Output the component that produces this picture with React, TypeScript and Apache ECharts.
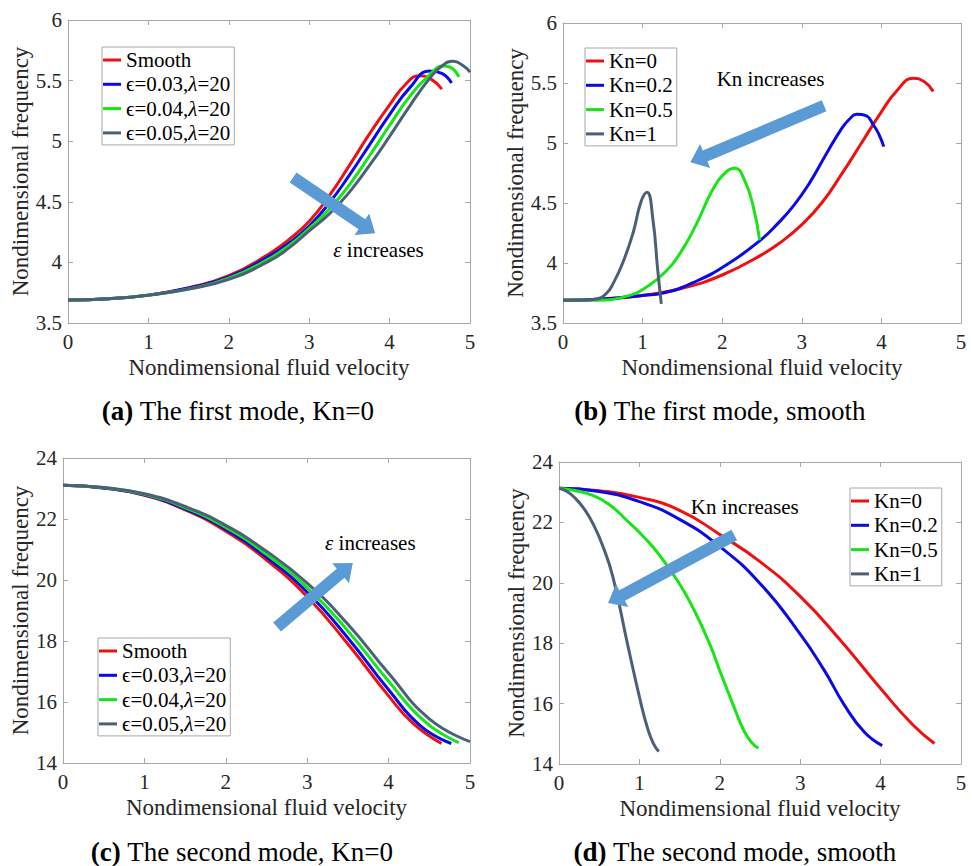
import React, { useEffect, useRef } from 'react';
import * as echarts from 'echarts';

const FONT = 'Liberation Serif, Times New Roman, DejaVu Serif, serif';
const BOX = '#a8a8a8';
const TXT = '#262626';
const ARROW = '#5b9bd5';

// ---------- axes ----------
const xMin = 0;
const xMax = 5;
const xStep = 1;
const y1Min = 3.5;
const y1Max = 6;
const y1Step = 0.5;
const y2Min = 14;
const y2Max = 24;
const y2Step = 2;
const xTitle = 'Nondimensional fluid velocity';
const yTitle = 'Nondimensional frequency';

// ---------- legends / captions ----------
const epsNames = ['Smooth', 'ϵ=0.03,λ=20', 'ϵ=0.04,λ=20', 'ϵ=0.05,λ=20'];
const knNames = ['Kn=0', 'Kn=0.2', 'Kn=0.5', 'Kn=1'];
const colors = ['#ee1111', '#0a0ae6', '#16e616', '#4b6078'];
const captions = [
  ['(a)', ' The first mode, Kn=0'],
  ['(b)', ' The first mode, smooth'],
  ['(c)', ' The second mode, Kn=0'],
  ['(d)', ' The second mode, smooth'],
];

// ---------- (a) first mode, Kn=0 ----------
const aSmoothX = [0, 0.5, 1, 1.5, 2, 2.5, 2.75, 3, 3.25, 3.5, 3.75, 4, 4.2, 4.37, 4.52, 4.65];
const aSmoothY = [3.69, 3.7, 3.73, 3.79, 3.89, 4.07, 4.19, 4.34, 4.55, 4.8, 5.06, 5.3, 5.47, 5.54, 5.51, 5.43];
const aE3X = [0, 0.5, 1, 1.5, 2, 2.5, 2.75, 3, 3.25, 3.5, 3.75, 4, 4.25, 4.5, 4.65, 4.77];
const aE3Y = [3.69, 3.7, 3.73, 3.79, 3.88, 4.05, 4.16, 4.3, 4.49, 4.72, 4.97, 5.22, 5.44, 5.58, 5.56, 5.48];
const aE4X = [0, 0.5, 1, 1.5, 2, 2.5, 2.75, 3, 3.25, 3.5, 3.75, 4, 4.25, 4.5, 4.67, 4.78, 4.86];
const aE4Y = [3.69, 3.7, 3.73, 3.78, 3.87, 4.03, 4.14, 4.28, 4.44, 4.64, 4.88, 5.13, 5.37, 5.55, 5.62, 5.6, 5.53];
const aE5X = [0, 0.5, 1, 1.5, 2, 2.5, 2.75, 3, 3.25, 3.5, 3.75, 4, 4.25, 4.5, 4.65, 4.79, 4.92, 5.0];
const aE5Y = [3.69, 3.7, 3.73, 3.78, 3.86, 4.01, 4.12, 4.26, 4.4, 4.58, 4.8, 5.04, 5.29, 5.52, 5.62, 5.66, 5.62, 5.57];

// ---------- (b) first mode, smooth ----------
const bKn0X = [0, 0.5, 1, 1.5, 2, 2.5, 2.75, 3, 3.25, 3.5, 3.75, 4, 4.2, 4.4, 4.54, 4.65];
const bKn0Y = [3.69, 3.7, 3.73, 3.79, 3.9, 4.07, 4.18, 4.32, 4.5, 4.74, 5.0, 5.26, 5.44, 5.54, 5.51, 5.43];
const bKn02X = [0, 0.5, 1, 1.26, 1.68, 2.09, 2.48, 2.7, 2.9, 3.1, 3.3, 3.5, 3.6, 3.69, 3.8, 3.9, 3.97, 4.03];
const bKn02Y = [3.69, 3.7, 3.73, 3.75, 3.85, 4.0, 4.19, 4.33, 4.48, 4.67, 4.9, 5.12, 5.2, 5.24, 5.23, 5.15, 5.07, 4.97];
const bKn05X = [0, 0.42, 0.84, 1.05, 1.26, 1.47, 1.68, 1.88, 2.05, 2.16, 2.28, 2.39, 2.47];
const bKn05Y = [3.69, 3.69, 3.73, 3.8, 3.91, 4.08, 4.33, 4.61, 4.76, 4.79, 4.69, 4.47, 4.19];
const bKn1X = [0, 0.25, 0.42, 0.55, 0.63, 0.75, 0.88, 0.98, 1.055, 1.13, 1.19, 1.235];
const bKn1Y = [3.69, 3.69, 3.7, 3.75, 3.83, 4.0, 4.25, 4.51, 4.59, 4.36, 3.94, 3.66];

// ---------- (c) second mode, Kn=0 ----------
const cSmoothX = [0, 0.5, 1, 1.5, 2, 2.5, 3, 3.5, 4, 4.3, 4.65];
const cSmoothY = [23.11, 23.02, 22.78, 22.3, 21.6, 20.65, 19.45, 17.9, 16.2, 15.3, 14.64];
const cE3X = [0, 0.5, 1, 1.5, 2, 2.5, 3, 3.5, 4, 4.4, 4.77];
const cE3Y = [23.11, 23.02, 22.79, 22.33, 21.66, 20.74, 19.6, 18.1, 16.4, 15.2, 14.64];
const cE4X = [0, 0.5, 1, 1.5, 2, 2.5, 3, 3.5, 4, 4.45, 4.86];
const cE4Y = [23.11, 23.03, 22.81, 22.37, 21.72, 20.84, 19.75, 18.33, 16.68, 15.35, 14.67];
const cE5X = [0, 0.5, 1, 1.5, 2, 2.5, 3, 3.5, 4, 4.5, 5.0];
const cE5Y = [23.11, 23.03, 22.83, 22.41, 21.79, 20.94, 19.9, 18.55, 16.94, 15.45, 14.7];

// ---------- (d) second mode, smooth ----------
const dKn0X = [0, 0.5, 1, 1.5, 2, 2.5, 3, 3.5, 4, 4.4, 4.67];
const dKn0Y = [23.13, 23.05, 22.83, 22.4, 21.6, 20.7, 19.55, 18.1, 16.5, 15.3, 14.68];
const dKn02X = [0, 0.5, 1, 1.5, 2, 2.5, 3, 3.3, 3.55, 3.8, 4.02];
const dKn02Y = [23.13, 23.02, 22.69, 22.1, 21.2, 19.98, 18.3, 17.1, 15.95, 15.05, 14.61];
const dKn05X = [0, 0.21, 0.41, 0.62, 0.87, 1.04, 1.24, 1.49, 1.68, 1.87, 2.02, 2.16, 2.3, 2.4, 2.48];
const dKn05Y = [23.13, 23.05, 22.9, 22.6, 22.0, 21.56, 20.95, 20.0, 19.1, 18.0, 16.95, 16.0, 15.1, 14.7, 14.52];
const dKn1X = [0, 0.1, 0.21, 0.32, 0.43, 0.54, 0.67, 0.85, 1.02, 1.1, 1.17, 1.24];
const dKn1Y = [23.13, 23.02, 22.78, 22.42, 21.92, 21.25, 20.2, 18.0, 16.0, 15.2, 14.7, 14.41];

// ---------- annotations (data coordinates of each panel) ----------
const arrowTails = [[2.8, 4.7], [3.28, 5.31], [2.63, 18.46], [2.18, 21.58]];
const arrowTips = [[3.82, 4.24], [1.6, 4.84], [3.56, 20.56], [0.61, 19.33]];
const noteTexts = ['{i|ε} increases', 'Kn increases', '{i|ε} increases', 'Kn increases'];
const notePos = [[3.3, 4.1], [1.93, 5.53], [3.22, 21.21], [1.64, 22.51]];

const panelSeries = [
  { names: epsNames, xs: [aSmoothX, aE3X, aE4X, aE5X], ys: [aSmoothY, aE3Y, aE4Y, aE5Y] },
  { names: knNames, xs: [bKn0X, bKn02X, bKn05X, bKn1X], ys: [bKn0Y, bKn02Y, bKn05Y, bKn1Y] },
  { names: epsNames, xs: [cSmoothX, cE3X, cE4X, cE5X], ys: [cSmoothY, cE3Y, cE4Y, cE5Y] },
  { names: knNames, xs: [dKn0X, dKn02X, dKn05X, dKn1X], ys: [dKn0Y, dKn02Y, dKn05Y, dKn1Y] },
];

// layout
const grids = [
  { left: 68, top: 20, width: 402, height: 303 },
  { left: 563, top: 23, width: 398, height: 300 },
  { left: 63, top: 458, width: 407, height: 305 },
  { left: 559, top: 462, width: 402, height: 302 },
];
const yNameGaps = [33, 34, 29, 29];
const legendPos = [
  { left: 102, top: 47 },
  { left: 585, top: 48 },
  { left: 98, top: 638 },
  { left: 850, top: 488 },
];
const captionPos = [[238, 411], [720, 411], [242, 852], [735, 852]];

function buildOption() {
  const xAxis: any[] = [];
  const yAxis: any[] = [];
  const series: any[] = [];
  const legend: any[] = [];
  const lineAxis = { show: true, onZero: false, lineStyle: { color: BOX, width: 1 } };
  const tick = { show: true, inside: true, length: 5, lineStyle: { color: BOX, width: 1 } };
  grids.forEach((g, gi) => {
    const first = gi < 2;
    const ymin = first ? y1Min : y2Min;
    const ymax = first ? y1Max : y2Max;
    const ystep = first ? y1Step : y2Step;
    xAxis.push({
      type: 'value', gridIndex: gi, position: 'bottom', min: xMin, max: xMax, interval: xStep,
      name: xTitle, nameLocation: 'middle', nameGap: 33,
      nameTextStyle: { fontFamily: FONT, fontSize: 23, color: TXT },
      axisLine: lineAxis, axisTick: tick, splitLine: { show: false },
      axisLabel: { fontFamily: FONT, fontSize: 21, color: TXT, margin: 8, showMinLabel: true, showMaxLabel: true },
    });
    xAxis.push({
      type: 'value', gridIndex: gi, position: 'top', min: xMin, max: xMax, interval: xStep,
      axisLine: lineAxis, axisTick: tick, splitLine: { show: false }, axisLabel: { show: false },
    });
    yAxis.push({
      type: 'value', gridIndex: gi, position: 'left', min: ymin, max: ymax, interval: ystep,
      name: yTitle, nameLocation: 'middle', nameGap: yNameGaps[gi],
      nameTextStyle: { fontFamily: FONT, fontSize: 23, color: TXT },
      axisLine: lineAxis, axisTick: tick, splitLine: { show: false },
      axisLabel: { fontFamily: FONT, fontSize: 21, color: TXT, margin: 6, showMinLabel: true, showMaxLabel: true },
    });
    yAxis.push({
      type: 'value', gridIndex: gi, position: 'right', min: ymin, max: ymax, interval: ystep,
      axisLine: lineAxis, axisTick: tick, splitLine: { show: false }, axisLabel: { show: false },
    });
    const p = panelSeries[gi];
    p.names.forEach((nm, k) => {
      series.push({
        type: 'line', name: nm, xAxisIndex: gi * 2, yAxisIndex: gi * 2,
        data: p.xs[k].map((x, i) => [x, p.ys[k][i]]),
        showSymbol: false, symbol: 'none', smooth: 0.5,
        lineStyle: { color: colors[k], width: 3 }, itemStyle: { color: colors[k] },
        z: 2 + k,
      });
    });
    legend.push({
      show: true, orient: 'vertical', left: legendPos[gi].left, top: legendPos[gi].top,
      padding: [2, 4, 1, 1], itemGap: 2.3, itemWidth: 18, itemHeight: 3, icon: 'rect',
      borderColor: BOX, borderWidth: 1, backgroundColor: '#ffffff', selectedMode: false,
      data: p.names,
      formatter: (name: string) => name.replace(/λ/g, '{i|λ}'),
      textStyle: {
        fontFamily: FONT, fontSize: 21, color: '#000', lineHeight: 22,
        rich: { i: { fontFamily: FONT, fontSize: 21, fontStyle: 'italic', color: '#000', lineHeight: 22 } },
      },
    });
  });
  return {
    animation: false,
    backgroundColor: '#ffffff',
    textStyle: { fontFamily: FONT },
    grid: grids.map((g) => ({ ...g, containLabel: false, show: false })),
    xAxis, yAxis, series, legend,
  };
}

function arrowPoints(t: number[], p: number[]) {
  const dx = p[0] - t[0];
  const dy = p[1] - t[1];
  const len = Math.sqrt(dx * dx + dy * dy);
  const ux = dx / len;
  const uy = dy / len;
  const nx = -uy;
  const ny = ux;
  const w = 6;
  const h = 13;
  const L = 16;
  const b = [p[0] - ux * L, p[1] - uy * L];
  return [
    [t[0] + nx * w, t[1] + ny * w],
    [b[0] + nx * w, b[1] + ny * w],
    [b[0] + nx * h, b[1] + ny * h],
    [p[0], p[1]],
    [b[0] - nx * h, b[1] - ny * h],
    [b[0] - nx * w, b[1] - ny * w],
    [t[0] - nx * w, t[1] - ny * w],
  ];
}

export default function App() {
  const ref = useRef<HTMLDivElement>(null);
  useEffect(() => {
    if (!ref.current) return;
    const chart = echarts.init(ref.current, null, { renderer: 'svg' });
    chart.setOption(buildOption());
    const graphic: any[] = [];
    for (let gi = 0; gi < 4; gi++) {
      const finder = { seriesIndex: gi * 4 };
      const t = chart.convertToPixel(finder, arrowTails[gi]) as number[];
      const p = chart.convertToPixel(finder, arrowTips[gi]) as number[];
      graphic.push({
        type: 'polygon', z: 50,
        shape: { points: arrowPoints(t, p) },
        style: { fill: ARROW },
      });
      const np = chart.convertToPixel(finder, notePos[gi]) as number[];
      graphic.push({
        type: 'text', z: 60, x: np[0], y: np[1],
        style: {
          text: noteTexts[gi], fontFamily: FONT, fontSize: 21, fill: '#000',
          align: 'left', verticalAlign: 'middle',
          rich: { i: { fontFamily: FONT, fontSize: 21, fontStyle: 'italic', fill: '#000' } },
        },
      });
      graphic.push({
        type: 'text', z: 60, x: captionPos[gi][0], y: captionPos[gi][1],
        style: {
          text: '{b|' + captions[gi][0] + '}' + captions[gi][1],
          fontFamily: FONT, fontSize: 27, fill: '#000', align: 'center', verticalAlign: 'middle',
          rich: { b: { fontFamily: FONT, fontSize: 27, fontWeight: 'bold', fill: '#000' } },
        },
      });
    }
    chart.setOption({ graphic });
    return () => chart.dispose();
  }, []);
  return (
    <div
      ref={ref}
      style={{ position: 'fixed', left: 0, top: 0, width: 972, height: 866, background: '#fff' }}
    />
  );
}
